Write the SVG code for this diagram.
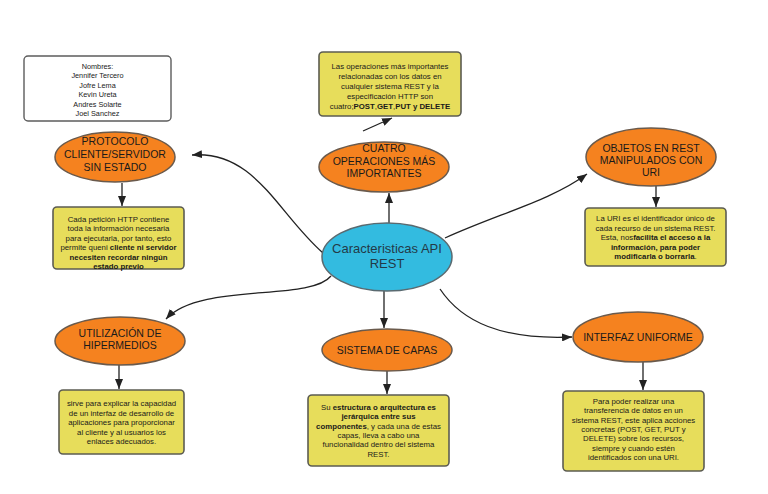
<svg xmlns="http://www.w3.org/2000/svg" width="768" height="494" viewBox="0 0 768 494">
<defs>
<marker id="arr" markerUnits="userSpaceOnUse" markerWidth="10" markerHeight="8" refX="10" refY="4" orient="auto">
<path d="M0,0 L10,4 L0,8 z" fill="#222"/>
</marker>
<style>
.ov{fill:#f5821f;stroke:#6a5a4c;stroke-width:1.5}
.ctr{fill:#33bbe0;stroke:#5a6a70;stroke-width:1.5}
.box{fill:#e7dd5b;stroke:#5c5c52;stroke-width:1.6}
.nm{fill:#fff;stroke:#5c5c5c;stroke-width:1.4}
.t{font-family:"Liberation Sans",Arial,sans-serif;fill:#1a1a1a;text-anchor:middle}
.ot{font-size:10.5px}
.st{font-size:7.8px}
.nt{font-size:7.3px}
.ct{font-size:13px;fill:#233a48}
.b{font-weight:bold}
.c{fill:none;stroke:#222;stroke-width:1.3;marker-end:url(#arr)}
</style>
</defs>
<rect width="768" height="494" fill="#fff"/>

<g id="connectors">
<path class="c" d="M323,253 C278,214 255,150 192,155"/>
<path class="c" d="M389,223 L389,193"/>
<path class="c" d="M363,131 L392,118"/>
<path class="c" d="M445,238 C500,213 550,201 587,174"/>
<path class="c" d="M440,289 C462,322 502,340 572,337"/>
<path class="c" d="M384,291 L384,328"/>
<path class="c" d="M331,276 C310,302 200,282 166,319"/>
<path class="c" d="M122,183 L122,206"/>
<path class="c" d="M656,186 L656,207"/>
<path class="c" d="M643,362 L643,390"/>
<path class="c" d="M387,371 L387,394"/>
<path class="c" d="M119,365 L119,389"/>
</g>

<g id="nombres">
<rect class="nm" x="24" y="56" width="147" height="65" rx="4"/>
<text class="t nt" x="97.5" y="68.5">Nombres:</text>
<text class="t nt" x="97.5" y="78">Jennifer Tercero</text>
<text class="t nt" x="97.5" y="87.5">Jofre Lema</text>
<text class="t nt" x="97.5" y="97">Kevin Ureta</text>
<text class="t nt" x="97.5" y="106.5">Andres Solarte</text>
<text class="t nt" x="97.5" y="116">Joel Sanchez</text>
</g>

<g id="protocolo">
<ellipse class="ov" cx="115" cy="157" rx="60" ry="25"/>
<text class="t ot" x="115" y="145">PROTOCOLO</text>
<text class="t ot" x="115" y="158">CLIENTE/SERVIDOR</text>
<text class="t ot" x="115" y="171">SIN ESTADO</text>
</g>

<g id="protocolo-desc">
<rect class="box" x="53" y="207" width="131" height="62" rx="4"/>
<text class="t st" x="118.5" y="221.5">Cada petición HTTP contiene</text>
<text class="t st" x="118.5" y="231">toda la información necesaria</text>
<text class="t st" x="118.5" y="240.5">para ejecutarla, por tanto, esto</text>
<text class="t st" x="118.5" y="250">permite queni <tspan class="b">cliente ni servidor</tspan></text>
<text class="t st b" x="118.5" y="259.5">necesiten recordar ningún</text>
<text class="t st b" x="118.5" y="269">estado previo</text>
</g>

<g id="operaciones-desc">
<rect class="box" x="319" y="52" width="142" height="64" rx="4"/>
<text class="t st" x="390" y="69">Las operaciones más importantes</text>
<text class="t st" x="390" y="79">relacionadas con los datos en</text>
<text class="t st" x="390" y="89">cualquier sistema REST y la</text>
<text class="t st" x="390" y="99">especificación HTTP son</text>
<text class="t st" x="390" y="109">cuatro;<tspan class="b">POST</tspan>,<tspan class="b">GET</tspan>,<tspan class="b">PUT y DELETE</tspan></text>
</g>

<g id="operaciones">
<ellipse class="ov" cx="384" cy="167" rx="65" ry="25"/>
<text class="t ot" x="384" y="152">CUATRO</text>
<text class="t ot" x="384" y="165">OPERACIONES MÁS</text>
<text class="t ot" x="384" y="177">IMPORTANTES</text>
</g>

<g id="centro">
<ellipse class="ctr" cx="387" cy="257" rx="65" ry="34"/>
<text class="t ct" x="387" y="252.5">Caracteristicas API</text>
<text class="t ct" x="387" y="267.5">REST</text>
</g>

<g id="objetos">
<ellipse class="ov" cx="651" cy="157" rx="65" ry="29"/>
<text class="t ot" x="651" y="152">OBJETOS EN REST</text>
<text class="t ot" x="651" y="164">MANIPULADOS CON</text>
<text class="t ot" x="651" y="176">URI</text>
</g>

<g id="objetos-desc">
<rect class="box" x="585" y="208" width="141" height="58" rx="4"/>
<text class="t st" x="655.5" y="221">La URI es el identificador único de</text>
<text class="t st" x="655.5" y="230.5">cada recurso de un sistema REST.</text>
<text class="t st" x="655.5" y="240">Esta, nos<tspan class="b">facilita el acceso a la</tspan></text>
<text class="t st b" x="655.5" y="249.5">información, para poder</text>
<text class="t st" x="655.5" y="259"><tspan class="b">modificarla o borrarla</tspan>.</text>
</g>

<g id="hipermedios">
<ellipse class="ov" cx="120" cy="341" rx="65" ry="24"/>
<text class="t ot" x="120" y="337">UTILIZACIÓN DE</text>
<text class="t ot" x="120" y="349">HIPERMEDIOS</text>
</g>

<g id="hipermedios-desc">
<rect class="box" x="59" y="390" width="125" height="64" rx="4"/>
<text class="t st" x="121.5" y="406">sirve para explicar la capacidad</text>
<text class="t st" x="121.5" y="415.5">de un interfaz de desarrollo de</text>
<text class="t st" x="121.5" y="425">aplicaciones para proporcionar</text>
<text class="t st" x="121.5" y="434.5">al cliente y al usuarios los</text>
<text class="t st" x="121.5" y="444">enlaces adecuados.</text>
</g>

<g id="capas">
<ellipse class="ov" cx="387" cy="350" rx="65" ry="21"/>
<text class="t ot" x="387" y="353.5">SISTEMA DE CAPAS</text>
</g>

<g id="capas-desc">
<rect class="box" x="308" y="395" width="141" height="71" rx="4"/>
<text class="t st" x="378.5" y="410">Su <tspan class="b">estructura o arquitectura es</tspan></text>
<text class="t st b" x="378.5" y="419.3">jerárquica entre sus</text>
<text class="t st" x="378.5" y="428.6"><tspan class="b">componentes</tspan>, y cada una de estas</text>
<text class="t st" x="378.5" y="437.9">capas, lleva a cabo una</text>
<text class="t st" x="378.5" y="447.2">funcionalidad dentro del sistema</text>
<text class="t st" x="378.5" y="456.5">REST.</text>
</g>

<g id="interfaz">
<ellipse class="ov" cx="638" cy="337" rx="65" ry="25"/>
<text class="t ot" x="638" y="341">INTERFAZ UNIFORME</text>
</g>

<g id="interfaz-desc">
<rect class="box" x="563" y="391" width="141" height="80" rx="4"/>
<text class="t st" x="633.5" y="404">Para poder realizar una</text>
<text class="t st" x="633.5" y="413.3">transferencia de datos en un</text>
<text class="t st" x="633.5" y="422.6">sistema REST, este aplica acciones</text>
<text class="t st" x="633.5" y="431.9">concretas (POST, GET, PUT y</text>
<text class="t st" x="633.5" y="441.2">DELETE) sobre los recursos,</text>
<text class="t st" x="633.5" y="450.5">siempre y cuando estén</text>
<text class="t st" x="633.5" y="459.8">identificados con una URI.</text>
</g>
</svg>
